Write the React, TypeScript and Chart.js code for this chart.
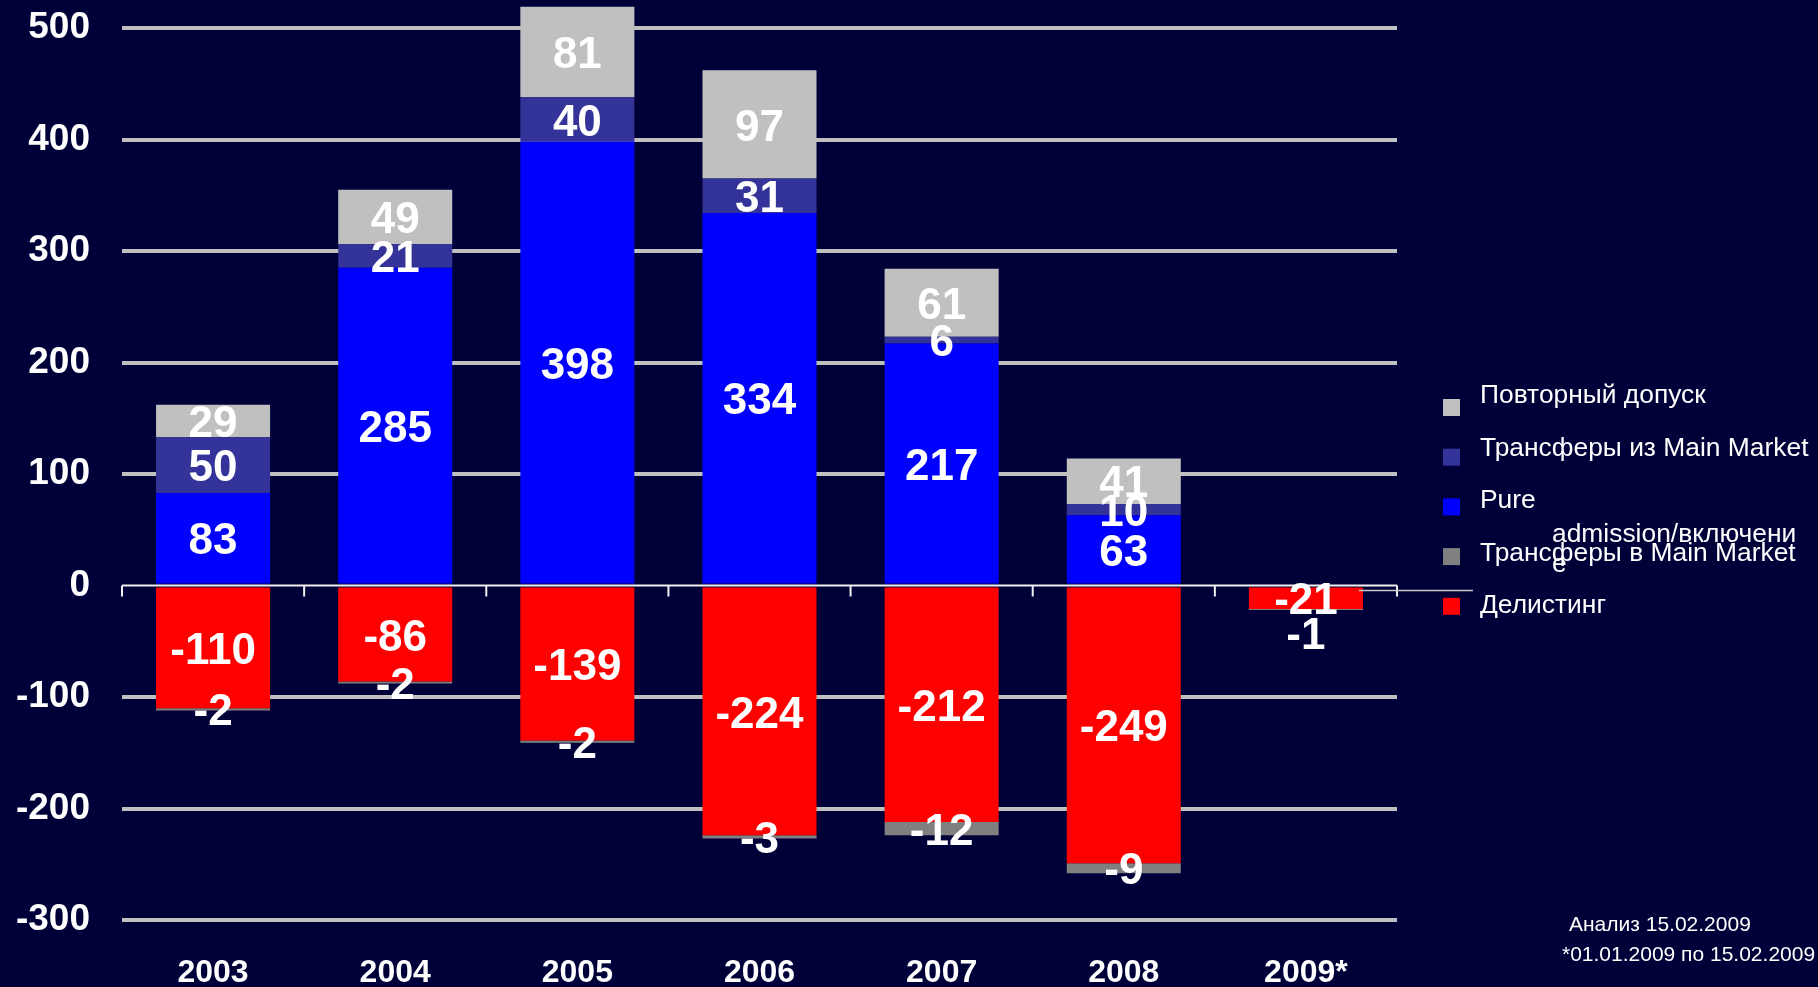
import React, { useEffect, useRef } from "react";
import { Chart, registerables } from "chart.js";

Chart.register(...registerables);

const years = ["2003", "2004", "2005", "2006", "2007", "2008", "2009*"];
const pureAdmission = [83, 285, 398, 334, 217, 63, 0];
const transfersFromMain = [50, 21, 40, 31, 6, 10, 0];
const readmission = [29, 49, 81, 97, 61, 41, 0];
const delisting = [-110, -86, -139, -224, -212, -249, -21];
const transfersToMain = [-2, -2, -2, -3, -12, -9, -1];
const yTicks = [-300, -200, -100, 0, 100, 200, 300, 400, 500];

const legendOrder = [
  { label: "Повторный допуск", color: "#C0C0C0" },
  { label: "Трансферы из Main Market", color: "#333399" },
  { label: "Pure", color: "#0000FF" },
  { label: "Трансферы в Main Market", color: "#808080" },
  { label: "Делистинг", color: "#FF0000" },
];
const footnotes = ["Анализ 15.02.2009", "*01.01.2009 по 15.02.2009"];

// label vertical shift (px) for the tiny 2009 transfer segment
const transferToLabelShift = [0, 0, 0, 0, 0, 0, 23];

const FONT = '"Liberation Sans", Arial, sans-serif';
const BG = "#000038";

const decorPlugin = {
  id: "decor",
  afterDatasetsDraw(chart: any) {
    const ctx = chart.ctx as CanvasRenderingContext2D;
    const area = chart.chartArea;
    const yScale = chart.scales.y;
    const y0 = yScale.getPixelForValue(0);
    ctx.save();
    // zero axis line with category-boundary ticks
    ctx.strokeStyle = "#F0F0F0";
    ctx.lineWidth = 2;
    ctx.beginPath();
    ctx.moveTo(area.left, y0);
    ctx.lineTo(area.right, y0);
    const n = chart.data.labels.length;
    const cw = (area.right - area.left) / n;
    for (let i = 0; i <= n; i++) {
      const x = area.left + i * cw;
      ctx.moveTo(x, y0);
      ctx.lineTo(x, y0 + 11);
    }
    ctx.stroke();
    // thin stray connector line toward legend
    ctx.strokeStyle = "#C8C8C8";
    ctx.lineWidth = 1.5;
    ctx.beginPath();
    ctx.moveTo(area.right - 38, y0 + 5);
    ctx.lineTo(area.right + 76, y0 + 5);
    ctx.stroke();

    // value labels
    ctx.font = `bold 44px ${FONT}`;
    ctx.fillStyle = "#FFFFFF";
    ctx.textAlign = "center";
    ctx.textBaseline = "middle";
    chart.data.datasets.forEach((ds: any, di: number) => {
      const meta = chart.getDatasetMeta(di);
      meta.data.forEach((el: any, i: number) => {
        const v = ds.data[i];
        if (!v) return;
        const p = el.getProps(["x", "y", "base"], true);
        const shift = ds.labelShift ? ds.labelShift[i] : 0;
        ctx.fillText(String(v), p.x, (p.y + p.base) / 2 + 4 + shift);
      });
    });

    // legend
    const lx = area.right + 46;
    const tx = area.right + 83;
    ctx.font = `26.4px ${FONT}`;
    ctx.textAlign = "left";
    ctx.textBaseline = "alphabetic";
    legendOrder.forEach((item, i) => {
      ctx.fillStyle = item.color;
      ctx.fillRect(lx, 399 + i * 49.7, 17, 17);
      ctx.fillStyle = "#FFFFFF";
      ctx.fillText(item.label, tx, 403 + i * 52.5);
    });
    ctx.fillText("admission/включени", tx + 72, 542);
    ctx.fillText("е", tx + 72, 572);

    // footnotes
    ctx.font = `21px ${FONT}`;
    ctx.fillText(footnotes[0], 1569, 931);
    ctx.fillText(footnotes[1], 1562, 961);
    ctx.restore();
  },
};

export default function App() {
  const ref = useRef<HTMLCanvasElement | null>(null);
  useEffect(() => {
    document.body.style.margin = "0";
    document.body.style.background = BG;
    const common = {
      categoryPercentage: 1,
      barPercentage: 0.626,
      borderWidth: 0,
      clip: false as any,
    };
    const chart = new Chart(ref.current as HTMLCanvasElement, {
      type: "bar",
      data: {
        labels: years,
        datasets: [
          { label: "Pure admission/включение", data: pureAdmission, backgroundColor: "#0000FF", ...common },
          { label: "Трансферы из Main Market", data: transfersFromMain, backgroundColor: "#333399", ...common },
          { label: "Повторный допуск", data: readmission, backgroundColor: "#C0C0C0", ...common },
          { label: "Делистинг", data: delisting, backgroundColor: "#FF0000", ...common },
          {
            label: "Трансферы в Main Market",
            data: transfersToMain,
            backgroundColor: "#808080",
            labelShift: transferToLabelShift,
            ...common,
          } as any,
        ],
      },
      options: {
        animation: false,
        responsive: true,
        maintainAspectRatio: false,
        layout: { autoPadding: false, padding: { left: 0, top: 28, right: 421, bottom: 0 } },
        plugins: { legend: { display: false }, tooltip: { enabled: false } },
        scales: {
          x: {
            stacked: true,
            grid: { display: false, drawTicks: false },
            border: { display: false },
            ticks: {
              color: "#FFFFFF",
              font: { family: FONT, size: 32, weight: "bold" },
              padding: 34,
              maxRotation: 0,
            },
            afterFit: (s: any) => {
              s.height = 67;
            },
          },
          y: {
            stacked: true,
            min: -300,
            max: 500,
            afterBuildTicks: (s: any) => {
              s.ticks = yTicks.map((v) => ({ value: v }));
            },
            grid: {
              drawTicks: true,
              tickLength: 32,
              tickColor: "rgba(0,0,0,0)",
              lineWidth: 4,
              color: (c: any) => (c.tick && c.tick.value === 0 ? "rgba(0,0,0,0)" : "#C0C0C0"),
            },
            border: { display: false },
            ticks: {
              color: "#FFFFFF",
              font: { family: FONT, size: 37, weight: "bold" },
              padding: 0,
            },
            afterFit: (s: any) => {
              s.width = 122;
            },
          },
        },
      },
      plugins: [decorPlugin],
    });
    return () => chart.destroy();
  }, []);
  return (
    <div style={{ position: "fixed", left: 0, top: 0, width: 1818, height: 987, background: BG }}>
      <canvas ref={ref} />
    </div>
  );
}
